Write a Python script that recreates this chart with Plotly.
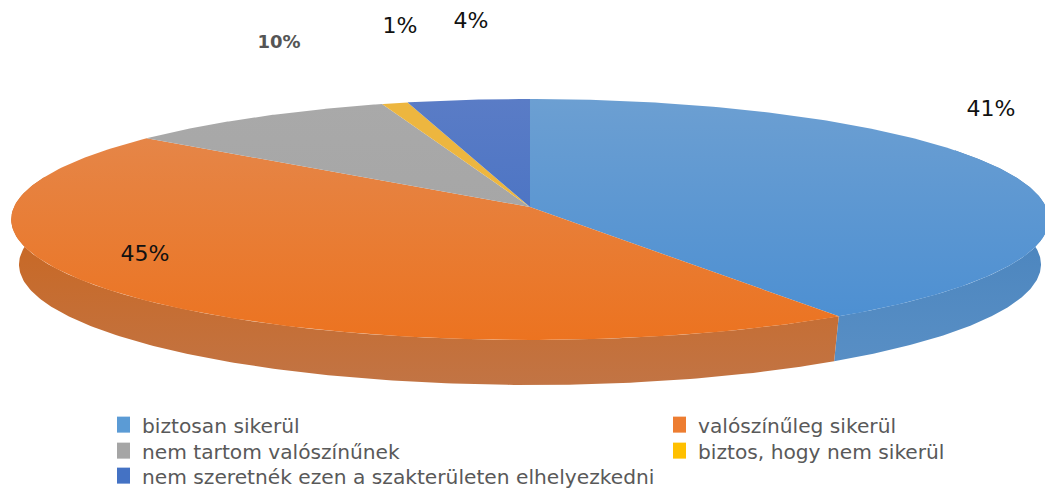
import numpy as np
import plotly.graph_objects as go

categories = ["biztosan sikerül", "valószínűleg sikerül", "nem tartom valószínűnek",
              "biztos, hogy nem sikerül", "nem szeretnék ezen a szakterületen elhelyezkedni"]
values = [40.8, 44.7, 9.4, 0.9, 4.2]
label_texts = ["41%", "45%", "10%", "1%", "4%"]
swatch = ["#5B9BD5", "#ED7D31", "#A5A5A5", "#FFC000", "#4472C4"]
top_grad = [("#6C9FD2", "#4A8ED2"), ("#E4894F", "#EC7320"), ("#A9A9A9", "#A3A3A3"),
            ("#EDB63F", "#EDB63F"), ("#5A7CC6", "#3E6DC2")]
wall_grad = [("#4A84BD", "#5A90C6"), ("#C9661F", "#C27444")]

W, H = 1045, 489
CX, CY, A, B, K = 530, 207, 516, 119.2, 0.1037
DEPTH, SHRINK = 45, 0.985
label_x = [991, 145, 279, 400, 471]
label_y = [110, 255, 43, 27, 22]
legend_x = [117, 673, 117, 673, 117]
legend_y = [425, 425, 451, 451, 476]


def project(theta, scale=1.0, dy=0.0):
    u, v = np.sin(theta), np.cos(theta)
    d = 1 + K * v
    return CX + A * scale * u / d, CY + dy - B * v / d


frac = np.array(values, float) / sum(values)
edges = np.concatenate([[0], np.cumsum(frac)]) * 2 * np.pi

fig = go.Figure()


def grad(c0, c1, y0, y1):
    return dict(type="vertical", start=y0, stop=y1, colorscale=[[0, c0], [1, c1]])


# side wall (blue and orange slices only are visible)
wall_ranges = [(np.radians(60), edges[1]), (edges[1], np.radians(285))]
for (t0, t1), (c0, c1) in zip(wall_ranges, wall_grad):
    t = np.linspace(t0, t1, 200)
    xt, yt = project(t)
    xb, yb = project(t[::-1], SHRINK, DEPTH)
    fig.add_trace(go.Scatter(x=np.r_[xt, xb], y=np.r_[yt, yb], mode="lines", line=dict(width=0),
                             fill="toself", fillgradient=grad(c0, c1, 210, 385),
                             hoverinfo="skip", showlegend=False))

# top surfaces
for i in range(len(values)):
    t = np.linspace(edges[i], edges[i + 1], 200)
    x, y = project(t)
    fig.add_trace(go.Scatter(x=np.r_[CX, x, CX], y=np.r_[CY, y, CY], mode="lines", line=dict(width=0),
                             fill="toself", fillgradient=grad(*top_grad[i], 99, 340),
                             hoverinfo="skip", showlegend=False))

# legend entries: one small legend per entry, to place the rows
legends = {}
for i, (name, c) in enumerate(zip(categories, swatch)):
    key = "legend" if i == 0 else f"legend{i + 1}"
    fig.add_trace(go.Scatter(x=[None], y=[None], mode="markers", name=name, legend=key, showlegend=True,
                             marker=dict(symbol="square", size=16, color=c)))
    legends[key] = dict(x=legend_x[i] / W, y=1 - legend_y[i] / H, xanchor="left", yanchor="middle",
                        indentation=-15,
                        font=dict(family="DejaVu Sans", size=20.2, color="#595959"),
                        bgcolor="rgba(0,0,0,0)")

for i in range(len(values)):
    bold = label_texts[i] == "10%"
    fig.add_trace(go.Scatter(x=[label_x[i]], y=[label_y[i]], mode="text", text=[label_texts[i]],
                             textfont=dict(family="DejaVu Sans", size=18 if bold else 22,
                                           color="#555555" if bold else "#111111",
                                           weight="bold" if bold else "normal"),
                             hoverinfo="skip", showlegend=False))

fig.update_layout(
    width=W, height=H, autosize=False, margin=dict(l=0, r=0, t=0, b=0, autoexpand=False),
    paper_bgcolor="white", plot_bgcolor="white",
    xaxis=dict(range=[0, W], visible=False, fixedrange=True),
    yaxis=dict(range=[H, 0], visible=False, fixedrange=True),
    **legends,
)
fig.write_html("out.html", config={"displayModeBar": False},
               post_script="document.body.style.margin='0';document.body.style.overflow='hidden';")
